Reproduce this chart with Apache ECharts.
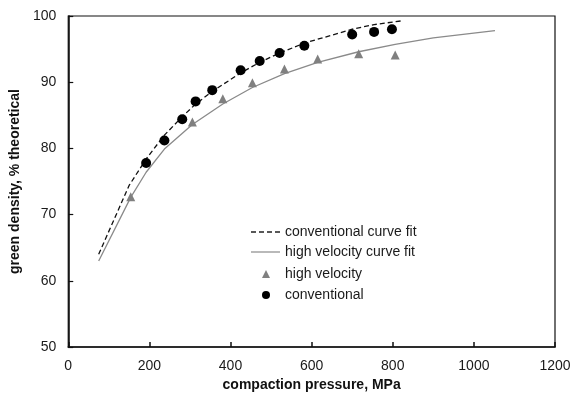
<!DOCTYPE html>
<html>
<head>
<meta charset="utf-8">
<script src="https://cdn.jsdelivr.net/npm/echarts@6/dist/echarts.min.js"></script>
<style>
  html, body { margin: 0; padding: 0; background: #fff; }
  #chart { width: 574px; height: 404px; }
</style>
</head>
<body>
<div id="chart"></div>
<script>
// Measured green density (% theoretical) vs compaction pressure (MPa)
const conventionalPressure = [192, 237, 281, 314, 355, 425, 472, 521, 582, 700, 754, 798];
const conventionalDensity  = [77.8, 81.2, 84.4, 87.1, 88.8, 91.8, 93.2, 94.4, 95.5, 97.2, 97.6, 98.0];

const highVelocityPressure = [154, 306, 381, 454, 533, 615, 716, 806];
const highVelocityDensity  = [72.7, 84.0, 87.5, 89.9, 92.0, 93.5, 94.3, 94.1];

// Curve fits
const conventionalFitPressure = [75, 150, 192, 237, 281, 314, 355, 425, 472, 521, 582, 700, 754, 826];
const conventionalFitDensity  = [64.0, 74.4, 78.4, 82.0, 84.8, 86.7, 88.6, 91.4, 93.0, 94.4, 95.9, 98.0, 98.7, 99.3];

const highVelocityFitPressure = [75, 154, 192, 237, 306, 381, 454, 533, 615, 716, 806, 900, 1052];
const highVelocityFitDensity  = [63.0, 72.6, 76.4, 79.9, 83.6, 86.7, 89.2, 91.3, 93.0, 94.6, 95.7, 96.7, 97.8];

const xTicks = [0, 200, 400, 600, 800, 1000, 1200];
const yTicks = [50, 60, 70, 80, 90, 100];

const zip = (xs, ys) => xs.map((x, i) => [x, ys[i]]);

const chart = echarts.init(document.getElementById('chart'), null, { renderer: 'canvas' });

const FONT = 'Liberation Sans, Arial, sans-serif';
const axisFont = { fontFamily: FONT, fontSize: 14, color: '#1a1a1a' };
const legendText = { fontFamily: FONT, fontSize: 14, color: '#1a1a1a' };

// Legend swatches: a dashed stroke and a plain stroke, drawn as thin filled bars
const dashedIcon = 'path://M0,0h5v1.3h-5z M8,0h5v1.3h-5z M16,0h5v1.3h-5z M24,0h5v1.3h-5z';
const solidIcon = 'path://M0,0h29v1.2h-29z';

chart.setOption({
  animation: false,
  backgroundColor: '#fff',
  grid: { left: 68, right: 19, top: 16, bottom: 57, show: true, borderColor: '#111', borderWidth: 1.2, backgroundColor: 'transparent' },
  xAxis: {
    type: 'value',
    min: xTicks[0], max: xTicks[xTicks.length - 1], interval: 200,
    name: 'compaction pressure, MPa',
    nameLocation: 'middle', nameGap: 30,
    nameTextStyle: { fontFamily: FONT, fontSize: 14, fontWeight: 'bold', color: '#111' },
    axisLine: { show: true, lineStyle: { color: '#111', width: 1.6 } },
    axisTick: { show: true, inside: true, length: 5, lineStyle: { color: '#111', width: 1.5 } },
    axisLabel: Object.assign({ margin: 12, formatter: v => String(v) }, axisFont),
    splitLine: { show: false }
  },
  yAxis: {
    type: 'value',
    min: yTicks[0], max: yTicks[yTicks.length - 1], interval: 10,
    name: 'green density, % theoretical',
    nameLocation: 'middle', nameGap: 42,
    nameTextStyle: { fontFamily: FONT, fontSize: 14, fontWeight: 'bold', color: '#111' },
    axisLine: { show: true, lineStyle: { color: '#111', width: 1.6 } },
    axisTick: { show: true, inside: true, length: 5, lineStyle: { color: '#111', width: 1.2 } },
    axisLabel: Object.assign({ margin: 12, formatter: v => String(v) }, axisFont),
    splitLine: { show: false }
  },
  legend: [
    {
      orient: 'vertical',
      left: 246, top: 220,
      itemWidth: 29, itemHeight: 12, itemGap: 6,
      textStyle: legendText,
      data: [
        { name: 'conventional curve fit', icon: dashedIcon, itemStyle: { color: '#222' } },
        { name: 'high velocity curve fit', icon: solidIcon, itemStyle: { color: '#8a8a8a' } }
      ]
    },
    {
      orient: 'vertical',
      left: 257, top: 262,
      itemWidth: 8, itemHeight: 8, itemGap: 7,
      textStyle: Object.assign({ padding: [0, 0, 0, 10] }, legendText),
      data: [
        { name: 'high velocity', icon: 'triangle', itemStyle: { color: '#808080' } },
        { name: 'conventional', icon: 'circle', itemStyle: { color: '#000' } }
      ]
    }
  ],
  series: [
    {
      name: 'conventional curve fit',
      type: 'line',
      data: zip(conventionalFitPressure, conventionalFitDensity),
      symbol: 'none',
      lineStyle: { color: '#111', width: 1.3, type: [5, 3] },
      itemStyle: { color: '#111' },
      z: 3
    },
    {
      name: 'high velocity curve fit',
      type: 'line',
      data: zip(highVelocityFitPressure, highVelocityFitDensity),
      symbol: 'none',
      lineStyle: { color: '#8a8a8a', width: 1.3 },
      itemStyle: { color: '#8a8a8a' },
      z: 3
    },
    {
      name: 'high velocity',
      type: 'scatter',
      data: zip(highVelocityPressure, highVelocityDensity),
      symbol: 'triangle',
      symbolSize: 9,
      itemStyle: { color: '#808080', opacity: 1 },
      z: 4
    },
    {
      name: 'conventional',
      type: 'scatter',
      data: zip(conventionalPressure, conventionalDensity),
      symbol: 'circle',
      symbolSize: 10,
      itemStyle: { color: '#000', opacity: 1 },
      z: 5
    }
  ]
});
</script>
</body>
</html>
